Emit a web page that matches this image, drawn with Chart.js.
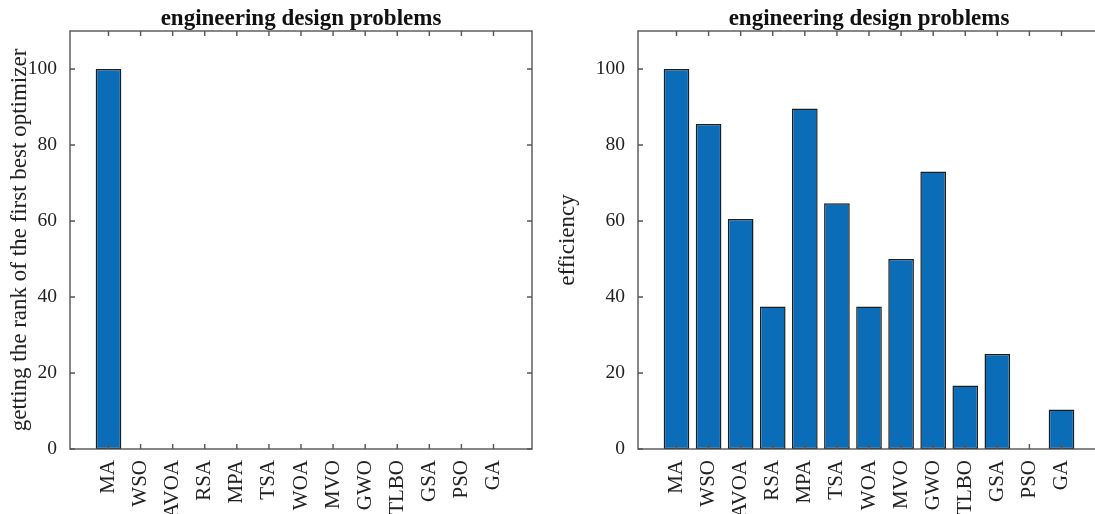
<!DOCTYPE html>
<html>
<head>
<meta charset="utf-8">
<script src="https://cdn.jsdelivr.net/npm/chart.js@4.4.1/dist/chart.umd.min.js"></script>
<style>
  html, body { margin: 0; padding: 0; background: #fff; overflow: hidden; }
  #wrap { position: relative; width: 1095px; height: 514px; overflow: hidden; }
  .panel { position: absolute; top: 0; height: 514px; }
  #left { left: 0; width: 547px; }
  #right { left: 547px; width: 560px; }
</style>
</head>
<body>
<div id="wrap">
  <div class="panel" id="left"><canvas id="rankChart" width="547" height="514"></canvas></div>
  <div class="panel" id="right"><canvas id="effChart" width="560" height="514"></canvas></div>
</div>
<script>
const optimizers = ["MA", "WSO", "AVOA", "RSA", "MPA", "TSA", "WOA", "MVO", "GWO", "TLBO", "GSA", "PSO", "GA"];
const firstBestRank = [100, 0, 0, 0, 0, 0, 0, 0, 0, 0, 0, 0, 0];
const efficiency = [100, 85.5, 60.5, 37.5, 89.6, 64.7, 37.5, 50, 73, 16.7, 25, 0, 10.4];
const yTicks = [0, 20, 40, 60, 80, 100];
const chartTitle = "engineering design problems";

const FONT = "'Liberation Serif', 'Times New Roman', serif";
const AXIS_COLOR = "#555";

// boxed axes with inward ticks on all four sides, plus the title
const boxAxes = {
  id: "boxAxes",
  afterDatasetsDraw(chart) {
    const { ctx, chartArea: a } = chart;
    const x = chart.scales.x;
    const y = chart.scales.y;
    const len = 5;

    ctx.save();
    ctx.strokeStyle = AXIS_COLOR;
    ctx.lineWidth = 1.4;
    ctx.strokeRect(a.left, a.top, a.right - a.left, a.bottom - a.top);

    ctx.beginPath();
    x.ticks.forEach((t) => {
      let px = x.getPixelForValue(t.value);
      ctx.moveTo(px, a.bottom);
      ctx.lineTo(px, a.bottom - len);
      ctx.moveTo(px, a.top);
      ctx.lineTo(px, a.top + len);
    });
    y.ticks.forEach((t) => {
      let py = y.getPixelForValue(t.value);
      ctx.moveTo(a.left, py);
      ctx.lineTo(a.left + len, py);
      ctx.moveTo(a.right, py);
      ctx.lineTo(a.right - len, py);
    });
    ctx.stroke();

    ctx.fillStyle = "#111";
    ctx.font = "bold 23px " + FONT;
    ctx.textAlign = "center";
    ctx.textBaseline = "alphabetic";
    ctx.fillText(chartTitle, (a.left + a.right) / 2, a.top - 6);
    ctx.restore();
  },
};

function makeChart(canvasId, values, yLabel, yWidth, padRight, titlePad) {
  const canvas = document.getElementById(canvasId);

  return new Chart(canvas, {
    type: "bar",
    data: {
      datasets: [
        {
          data: values.map((v, i) => ({ x: i + 1, y: v })),
          backgroundColor: "#0b6db7",
          borderColor: "#1e1e1e",
          borderWidth: (c) => (c.raw && c.raw.y > 0 ? 1.5 : 0),
          borderSkipped: false,
          barPercentage: 0.8,
          categoryPercentage: 1,
        },
      ],
    },
    options: {
      responsive: false,
      animation: false,
      devicePixelRatio: 1,
      layout: {
        padding: { top: 31, left: 0, right: padRight, bottom: 0 },
      },
      plugins: {
        legend: { display: false },
        tooltip: { enabled: false },
      },
      scales: {
        x: {
          type: "linear",
          offset: false,
          min: -0.2,
          max: 14.2,
          afterBuildTicks: (s) => {
            s.ticks = optimizers.map((_, i) => ({ value: i + 1 }));
          },
          afterFit: (s) => {
            s.height = 65;
          },
          grid: { display: false },
          border: { display: false },
          ticks: {
            autoSkip: false,
            minRotation: 90,
            maxRotation: 90,
            padding: 3,
            color: "#222",
            font: { family: FONT, size: 21 },
            callback: (value, index) => optimizers[index],
          },
        },
        y: {
          min: 0,
          max: 110,
          afterBuildTicks: (s) => {
            s.ticks = yTicks.map((v) => ({ value: v }));
          },
          afterFit: (s) => {
            s.width = yWidth;
          },
          grid: { display: false },
          border: { display: false },
          ticks: {
            padding: 5,
            color: "#222",
            font: { family: FONT, size: 19.5 },
          },
          title: {
            display: true,
            text: yLabel,
            color: "#222",
            font: { family: FONT, size: 23 },
            padding: { top: titlePad, bottom: 0 },
          },
        },
      },
    },
    plugins: [boxAxes],
  });
}

window.addEventListener("load", () => {
  makeChart("rankChart", firstBestRank, "getting the rank of the first best optimizer", 70, 15, 6);
  makeChart("effChart", efficiency, "efficiency", 91, 7, 7);
});
</script>
</body>
</html>
